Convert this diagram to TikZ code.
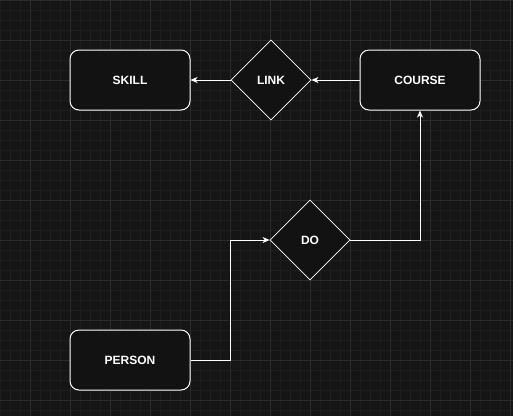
\documentclass[tikz,border=0pt]{standalone}
\usepackage{fontspec}
\setmainfont{Liberation Sans}
\usetikzlibrary{shapes.geometric,arrows.meta}
\definecolor{bg}{HTML}{151515}
\definecolor{gridminor}{HTML}{1D1D1D}
\definecolor{gridmajor}{HTML}{2C2C2C}
\definecolor{boxfill}{HTML}{121212}
\tikzset{
  entity/.style={draw=white, fill=boxfill, line width=1pt, rounded corners=9pt, minimum width=120pt, minimum height=60pt, inner sep=0pt, text=white, font=\fontsize{12pt}{14pt}\selectfont\bfseries},
  relation/.style={draw=white, fill=boxfill, line width=0.8pt, diamond, aspect=1, minimum width=80pt, minimum height=80pt, inner sep=0pt, text=white, font=\fontsize{12pt}{14pt}\selectfont\bfseries},
  conn/.style={draw=white, line width=1pt, -{Stealth[length=7pt,width=6pt,inset=2pt]}},
}
\begin{document}
\begin{tikzpicture}[x=1pt,y=-1pt]
\fill[bg] (0,0) rectangle (513,416);
\useasboundingbox (0,0) rectangle (513,416);
\foreach \i in {0,10,...,510} \draw[gridminor,line width=0.8pt] (\i,0) -- (\i,416);
\foreach \j in {0,10,...,410} \draw[gridminor,line width=0.8pt] (0,\j) -- (513,\j);
\foreach \i in {30,70,...,510} \draw[gridmajor,line width=0.8pt] (\i,0) -- (\i,416);
\foreach \j in {0,40,...,400} \draw[gridmajor,line width=0.8pt] (0,\j) -- (513,\j);

\node[entity] (skill) at (130,80) {SKILL};
\node[entity] (course) at (420,80) {COURSE};
\node[entity] (person) at (130,360) {PERSON};
\node[relation] (link) at (271,80) {LINK};
\node[relation] (do) at (310,240) {DO};

\draw[conn] (course.west) -- (link.east);
\draw[conn] (link.west) -- (skill.east);
\coordinate (p1) at (230,360);
\coordinate (p2) at (230,240);
\draw[conn] (person.east) -- (p1) -- (p2) -- (do.west);
\coordinate (d1) at (420,240);
\draw[conn] (do.east) -- (d1) -- (course.south);
\end{tikzpicture}
\end{document}
